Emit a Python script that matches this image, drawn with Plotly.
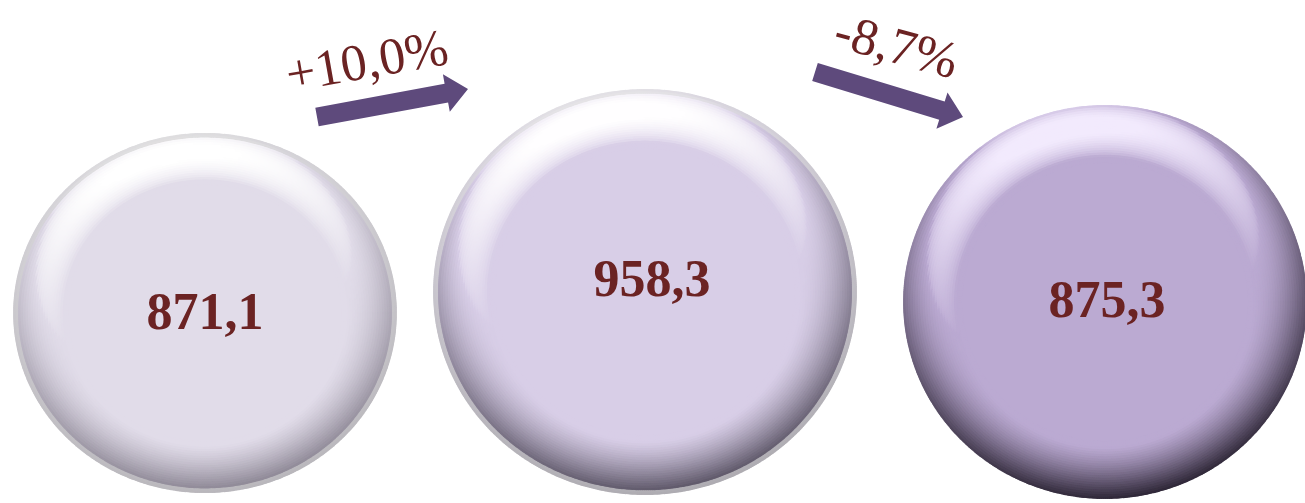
import numpy as np
import plotly.graph_objects as go

# ---------------- data ----------------
values = [871.1, 958.3, 875.3]
value_labels = [f"{v:.1f}".replace(".", ",") for v in values]
changes = [(values[i + 1] / values[i] - 1) * 100 for i in range(len(values) - 1)]
change_labels = [f"{c:+.1f}%".replace(".", ",") for c in changes]

# ---------------- layout / style ----------------
W, H = 1305, 503
disc_cx = [205, 645, 1105]
disc_cy = [313, 292, 302]
disc_rx = [192, 212, 202]
disc_ry = [180, 203, 197]
label_dy = [3, -9, 2]
label_dx = [0, 7, 2]

face_col = [(225, 220, 233), (216, 206, 231), (187, 170, 210)]
high_col = [(255, 255, 255), (255, 254, 255), (242, 234, 253)]
shad_col = [(130, 124, 138), (78, 72, 88), (40, 33, 48)]
rim_col = [(212, 212, 212), (222, 222, 222), None]

arrow_tail = [(317, 117), (815, 72)]
arrow_tip = [(468, 89), (963, 117)]
arrow_color = "#5E4A7C"
chg_pos = [(367, 60), (897, 45)]
chg_angle = [-10, 15]
text_color = "#6B2323"


def shade_ring(cx, cy, rx, ry, face, high, shad, rim, msize=6.0, step=2.4):
    rm = (rx + ry) / 2.0
    band = 0.27 * rm
    phiL = np.deg2rad(103)
    L = np.array([0.65 * np.cos(phiL), 0.65 * np.sin(phiL), 0.70])
    L = L / np.linalg.norm(L)
    s0 = L[2]
    F, Hh, S = np.array(face, float), np.array(high, float), np.array(shad, float)
    xs, ys, cs = [], [], []
    ds = np.arange(msize / 2.0, band + step, step)
    for d in ds:  # outer ring first, inner rings drawn over
        t = min(1.0, d / band)
        alpha = np.deg2rad(86) * (1 - t) ** 1.35
        r = rm - d
        n_ang = int(2 * np.pi * r / 2.0)
        phi = np.linspace(0, 2 * np.pi, n_ang, endpoint=False)
        s = np.sin(alpha) * (np.cos(phi) * L[0] + np.sin(phi) * L[1]) + np.cos(alpha) * L[2]
        up = np.clip((s - s0) / (1 - s0), 0, 1) ** 0.55
        dn = np.clip((s0 - s) / (1 + s0), 0, 1) ** 0.8
        col = F + np.outer(np.clip(up * 1.1, 0, 1), Hh - F) + np.outer(np.clip(dn * 1.2, 0, 1), S - F)
        if rim is not None and d < 6:
            col = 0.35 * col + 0.65 * np.array(rim, float)
        col = np.clip(col, 0, 255).astype(int)
        xs.append(cx + (rx - d * rx / rm) * np.cos(phi))
        ys.append(cy - (ry - d * ry / rm) * np.sin(phi))
        cs += [f"rgb({a},{b},{c})" for a, b, c in col]
    return np.concatenate(xs), np.concatenate(ys), cs, msize


fig = go.Figure()
shapes = []

for i in range(len(values)):
    cx, cy, rx, ry = disc_cx[i], disc_cy[i], disc_rx[i], disc_ry[i]
    fc = "rgb(%d,%d,%d)" % face_col[i]
    shapes.append(dict(type="circle", xref="x", yref="y", layer="below",
                       x0=cx - rx + 2, x1=cx + rx - 2, y0=cy - ry + 2, y1=cy + ry - 2,
                       fillcolor=fc, line=dict(width=0)))
    x, y, c, ms = shade_ring(cx, cy, rx, ry, face_col[i], high_col[i], shad_col[i], rim_col[i])
    fig.add_trace(go.Scatter(x=x, y=y, mode="markers", hoverinfo="skip", showlegend=False,
                             marker=dict(size=ms, color=c, line=dict(width=0))))

# value labels
fig.add_trace(go.Scatter(
    x=[disc_cx[i] + label_dx[i] for i in range(len(values))],
    y=[disc_cy[i] + label_dy[i] for i in range(len(values))],
    text=value_labels, mode="text", showlegend=False, hoverinfo="skip",
    textposition="middle center",
    textfont=dict(family="Liberation Serif", size=52, color=text_color, weight="bold")))

# arrows
shaft_w, head_w, head_l = 19, 38, 22
for (tx, ty), (hx, hy) in zip(arrow_tail, arrow_tip):
    p0, p1 = np.array([tx, ty], float), np.array([hx, hy], float)
    u = (p1 - p0) / np.linalg.norm(p1 - p0)
    v = np.array([-u[1], u[0]])
    base = p1 - u * head_l
    pts = [p0 + v * shaft_w / 2, base + v * shaft_w / 2, base + v * head_w / 2, p1,
           base - v * head_w / 2, base - v * shaft_w / 2, p0 - v * shaft_w / 2]
    path = "M " + " L ".join(f"{a:.1f},{b:.1f}" for a, b in pts) + " Z"
    shapes.append(dict(type="path", xref="x", yref="y", path=path,
                       fillcolor=arrow_color, line=dict(width=0)))

annotations = []
for lab, (ax_, ay_), ang in zip(change_labels, chg_pos, chg_angle):
    annotations.append(dict(x=ax_, y=ay_, xref="x", yref="y", text=lab, showarrow=False,
                            textangle=ang, xanchor="center", yanchor="middle",
                            font=dict(family="Liberation Serif", size=52, color=text_color)))

fig.update_layout(
    width=W, height=H, autosize=False,
    margin=dict(l=0, r=0, t=0, b=0),
    paper_bgcolor="white", plot_bgcolor="white",
    shapes=shapes, annotations=annotations,
    xaxis=dict(range=[0, W], visible=False, fixedrange=True),
    yaxis=dict(range=[H, 0], visible=False, fixedrange=True),
)

fig.write_html("out.html", config={"displayModeBar": False},
               post_script="document.body.style.margin='0';document.body.style.overflow='hidden';")
